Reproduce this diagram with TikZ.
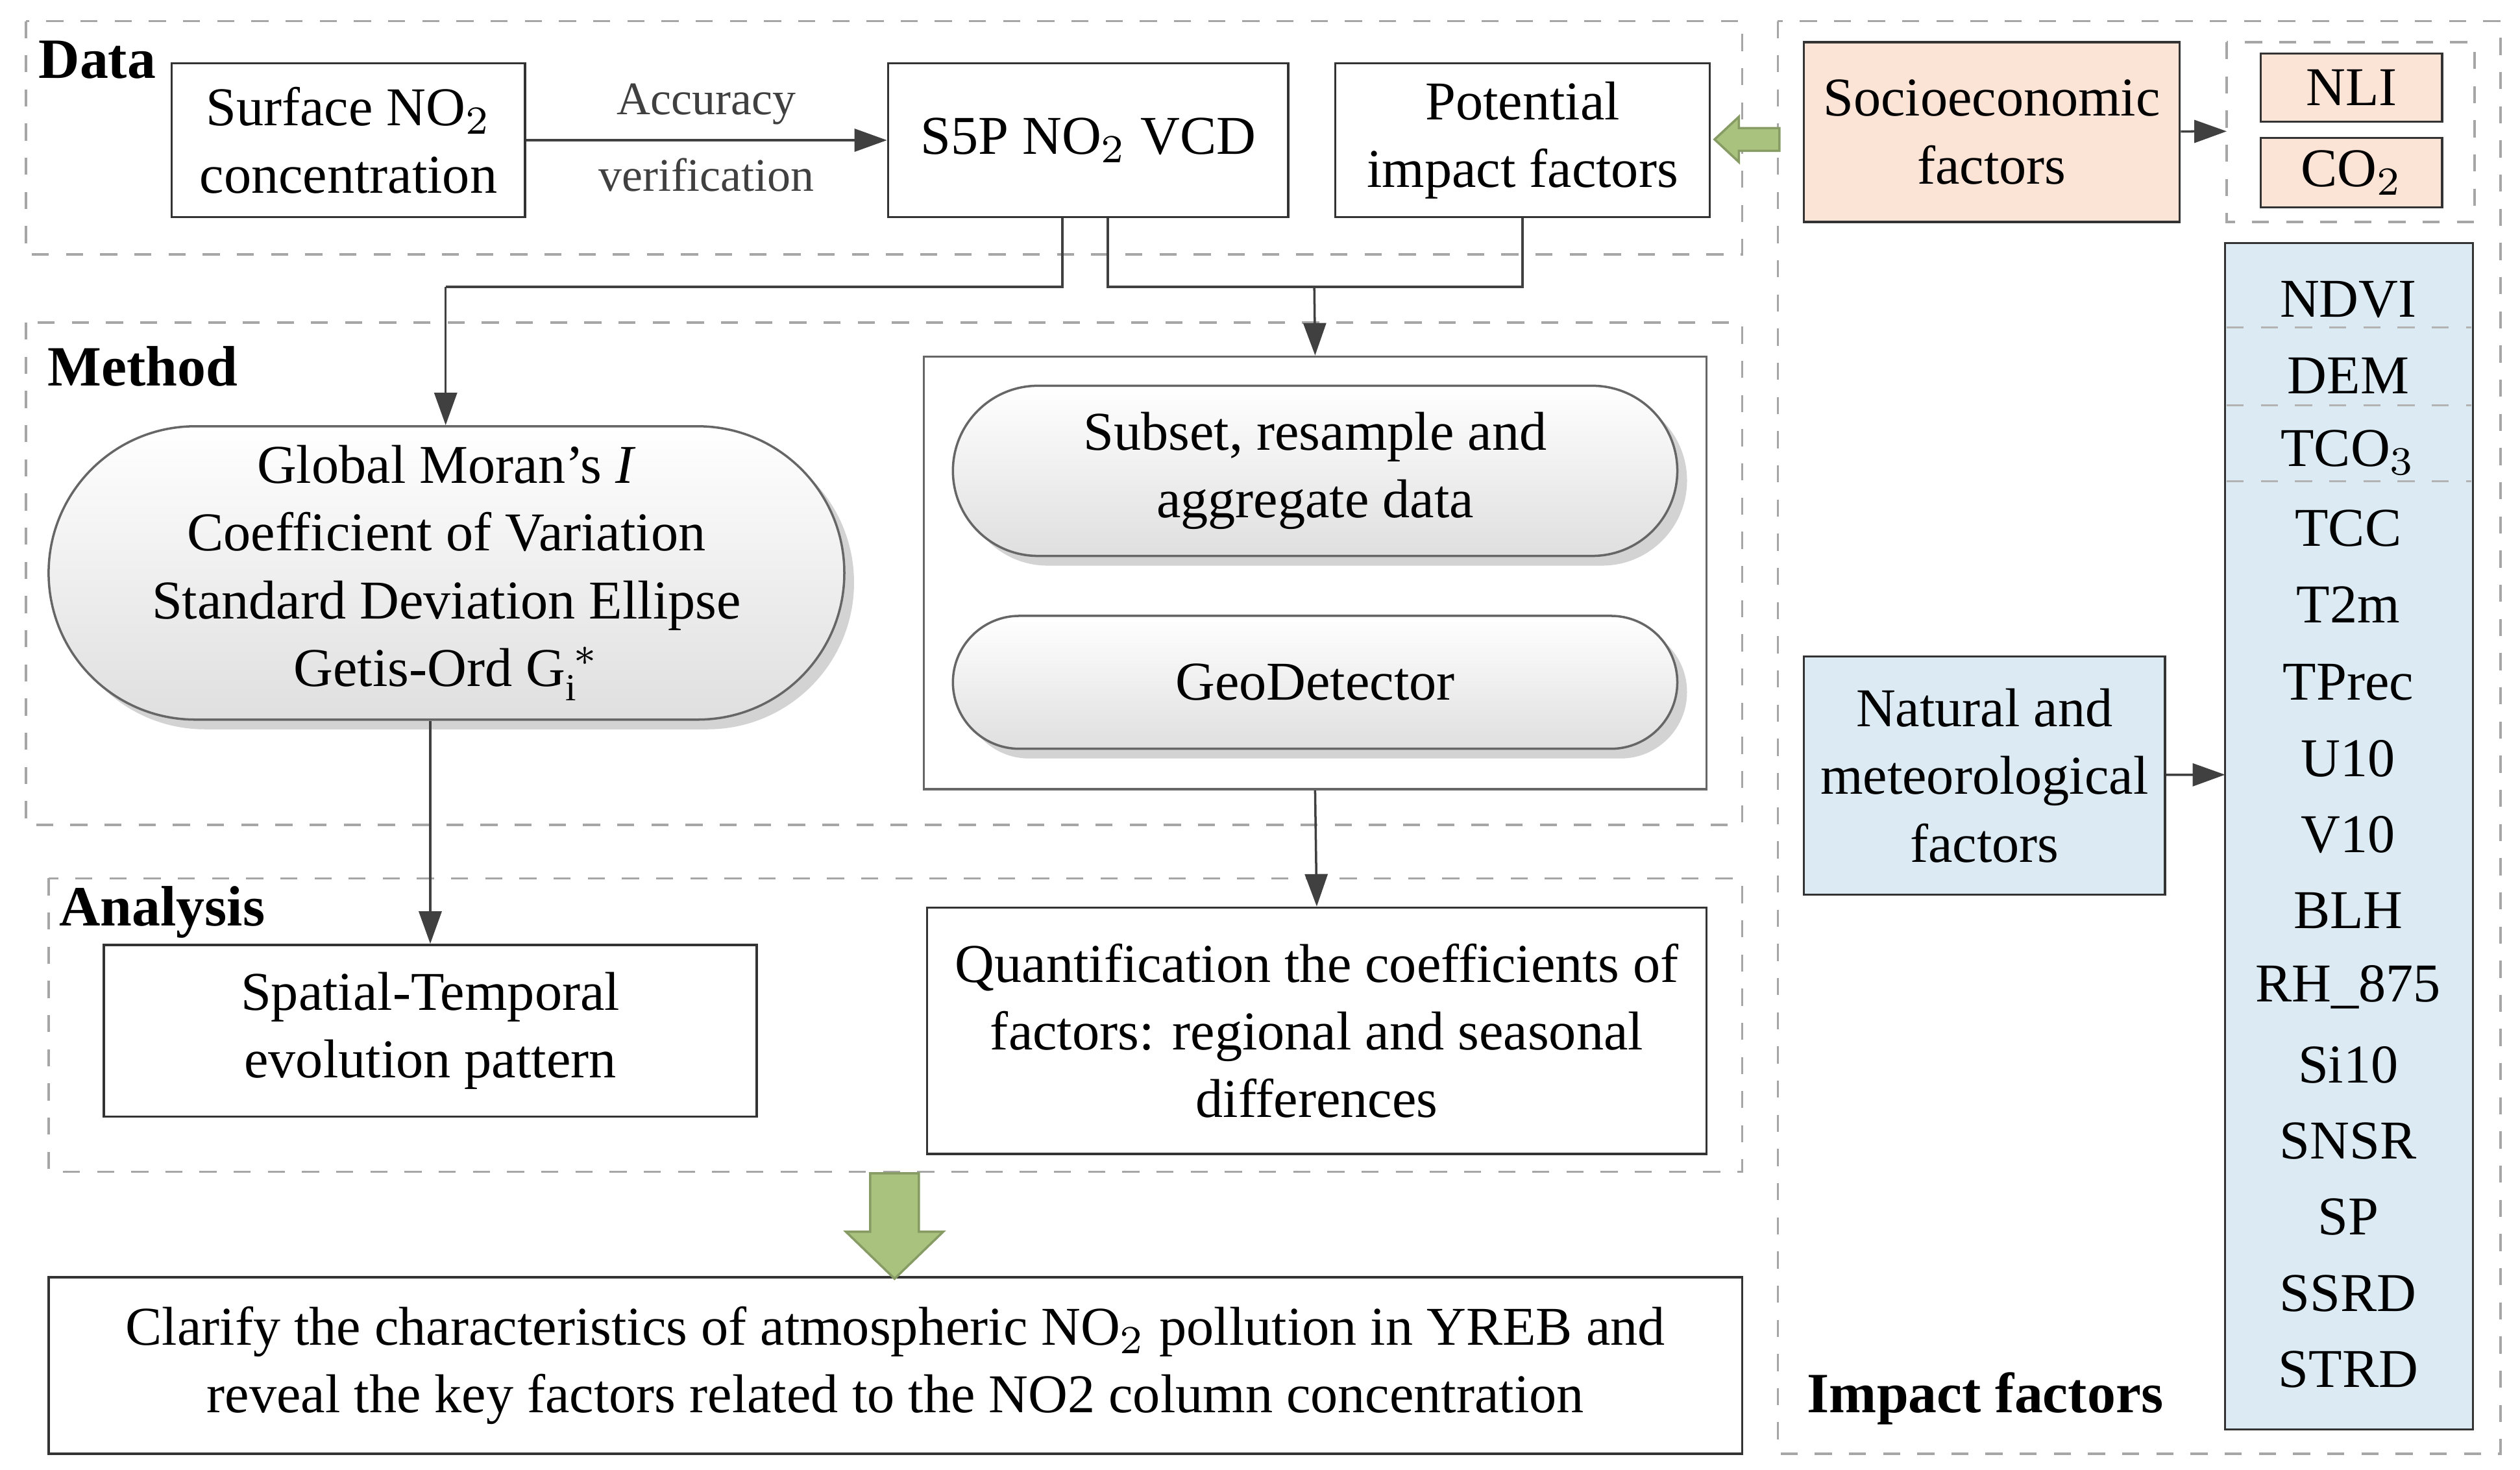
\documentclass[tikz,border=0pt]{standalone}
\usepackage{fontspec}
\setmainfont{Liberation Serif}
\usetikzlibrary{shapes.misc,shadows,arrows.meta}
\definecolor{peach}{HTML}{FBE3D6}
\definecolor{lblue}{HTML}{DCEBF3}
\definecolor{ogreen}{HTML}{A9C27E}
\begin{document}
\begin{tikzpicture}[x=0.1mm,y=-0.1mm,
 font=\fontsize{9.6}{11.9}\selectfont,
 dbox/.style={draw=gray!70,dashed,thin},
 box/.style={draw=black!80,thin,align=center,inner sep=0pt},
 pill/.style={draw=black!60,rounded rectangle,align=center,top color=white,bottom color=gray!25,drop shadow={opacity=0.35,shadow xshift=0.6mm,shadow yshift=-0.6mm},inner sep=0pt},
 arr/.style={-{Triangle[length=2mm,width=1.4mm]},black!75,thin},
 ln/.style={black!75,thin},
 hdr/.style={font=\fontsize{10}{12}\selectfont\bfseries,anchor=center},
 lbl/.style={font=\fontsize{8.2}{10}\selectfont,inner sep=1pt},
 bigarr/.style={draw=ogreen!80!black,fill=ogreen,thin}]
\useasboundingbox (0,0) rectangle (1555,907);
% dashed frames
\draw[dbox] (16,13) rectangle (1075,157);
\draw[dbox] (16,199) rectangle (1075,509);
\draw[dbox] (30,542) rectangle (1075,723);
\draw[dbox] (1097,13) rectangle (1543,897);
\node[hdr] (hdata) at (60,37) {Data};
\node[hdr] (hmeth) at (88,226) {Method};
\node[hdr] (hana) at (100,563) {Analysis};
\node[hdr] (himp) at (1225,863) {Impact factors};
% data row
\node[box,minimum width=218*0.1mm,minimum height=95*0.1mm] (surf) at (215,86.5) {Surface NO$_2$\\concentration};
\node[box,minimum width=247*0.1mm,minimum height=95*0.1mm] (s5p) at (671.5,86.5) {S5P NO$_2$ VCD};
\node[box,minimum width=231*0.1mm,minimum height=95*0.1mm] (pot) at (939.5,86.5) {Potential\\impact factors};
\draw[arr] (surf) -- node[lbl,above=1.5pt]{Accuracy} node[lbl,below=2pt]{verification} (s5p);
% right column
\node[box,fill=peach,minimum width=232*0.1mm,minimum height=111*0.1mm] (soc) at (1229,81.5) {Socioeconomic\\factors};
\draw[dbox] (1374,26) rectangle (1527,137);
\coordinate (sbx) at (1374,81);
\node[box,fill=peach,minimum width=112*0.1mm,minimum height=42*0.1mm] (nli) at (1451,54) {NLI};
\node[box,fill=peach,minimum width=112*0.1mm,minimum height=43*0.1mm] (co2) at (1451,106.5) {CO$_2$};
\draw[arr] (soc) -- (sbx);
\draw[bigarr] (1098,79) -- (1073,79) -- (1073,72) -- (1058,86) -- (1073,100) -- (1073,93) -- (1098,93) -- cycle;
\node[box,fill=lblue,minimum width=153*0.1mm,minimum height=732*0.1mm] (nat) at (1449.5,516) {};
\foreach \t/\y in {NDVI/185,DEM/232,TCO$_3$/279,TCC/326,T2m/373,TPrec/421,U10/468,V10/515,BLH/562,RH\_875/609,Si10/657,SNSR/704,SP/751,SSRD/798,STRD/845}
  \node at (1449,\y) {\t};
\foreach \y in {202,250,297} \draw[gray!60,dashed,thin] (1374,\y) -- (1525,\y);
\node[box,fill=lblue,minimum width=223*0.1mm,minimum height=147*0.1mm] (natf) at (1224.5,478.5) {Natural and\\meteorological\\factors};
\coordinate (natin) at (1373,478);
\draw[arr] (natf) -- (natin);
% method
\node[pill,minimum width=491*0.1mm,minimum height=181*0.1mm] (moran) at (275.5,353.5) {Global Moran’s \textit{I}\\Coefficient of Variation\\Standard Deviation Ellipse\\Getis-Ord G$_\mathrm{i}^{\,*}$};
\node[box,draw=black!60,minimum width=483*0.1mm,minimum height=267*0.1mm] (inner) at (811.5,353.5) {};
\node[pill,minimum width=447*0.1mm,minimum height=105*0.1mm] (sub) at (811.5,290.5) {Subset, resample and\\aggregate data};
\node[pill,minimum width=447*0.1mm,minimum height=82*0.1mm] (geo) at (811.5,421) {GeoDetector};
\draw[ln] ([xshift=-16*0.1mm]s5p.south) |- (275,177);
\draw[arr] (275,177) -- (moran.north -| 275,0);
\draw[ln] ([xshift=12*0.1mm]s5p.south) |- (811,177);
\draw[arr] (811,177) -- (inner.north);
\draw[ln] (pot.south) |- (811,177);
% analysis
\node[box,minimum width=403*0.1mm,minimum height=106*0.1mm] (spat) at (265.5,636) {Spatial-Temporal\\evolution pattern};
\node[box,minimum width=481*0.1mm,minimum height=152*0.1mm] (quant) at (812.5,636) {Quantification the coefficients of\\factors: regional and seasonal\\differences};
\draw[arr] (moran.south -| spat.north) -- (spat.north);
\draw[arr] (inner.south) -- (quant.north);
% result
\node[box,minimum width=1045*0.1mm,minimum height=109*0.1mm] (res) at (552.5,842.5) {Clarify the characteristics of atmospheric NO$_2$ pollution in YREB and\\reveal the key factors related to the NO2 column concentration};
\draw[bigarr] (537,724) -- (567,724) -- (567,760) -- (582,760) -- (552,789) -- (522,760) -- (537,760) -- cycle;
\end{tikzpicture}
\end{document}
